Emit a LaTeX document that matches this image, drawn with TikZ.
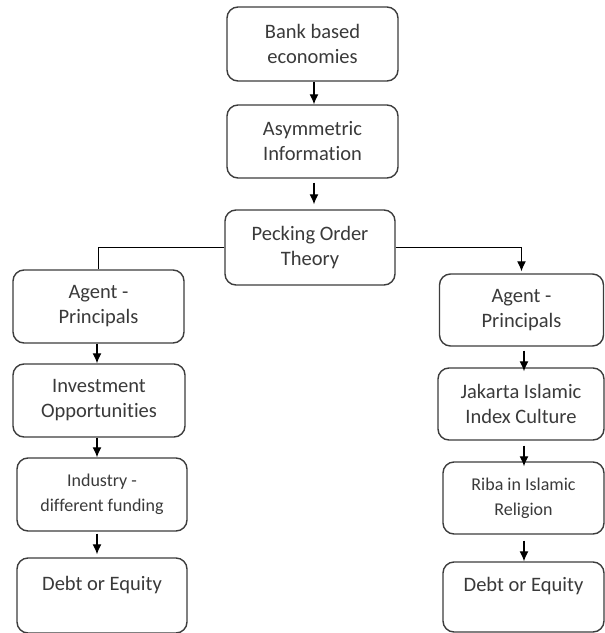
\documentclass[tikz,border=0pt]{standalone}
\usepackage{fontspec}
\setmainfont[Ligatures=NoCommon]{Carlito}
\usepackage{tikz}
\usetikzlibrary{arrows.meta,positioning}

\definecolor{boxline}{HTML}{3C3C3C}
\definecolor{boxtext}{HTML}{3A3A3A}

\tikzset{
  stagebox/.style={draw=boxline, line width=1.4pt, rounded corners=11pt, fill=white,
    text=boxtext, align=center, inner sep=0pt,
    font=\fontsize{20.5}{25}\selectfont},
  smallbox/.style={stagebox, font=\fontsize{18}{25}\selectfont},
  flow/.style={draw=black, line width=1.2pt, -{Latex[length=10pt,width=9pt]}},
  link/.style={draw=black, line width=1.2pt}
}

\begin{document}
\begin{tikzpicture}[x=1pt,y=-1pt]
  \useasboundingbox (0,0) rectangle (605,633);

  % Central chain
  \node[stagebox, minimum width=171pt, minimum height=74pt] (bank) at (312.5,44) {Bank based\\economies};
  \node[stagebox, minimum width=171pt, minimum height=73pt] (asym) at (312.5,141.5) {Asymmetric\\Information};
  \node[stagebox, minimum width=170pt, minimum height=75pt] (peck) at (310,247.5) {Pecking Order\\Theory};

  % Left branch
  \node[stagebox, minimum width=171pt, minimum height=73pt] (agentL) at (98.5,306.5) {Agent -\\Principals};
  \node[stagebox, minimum width=172pt, minimum height=73pt] (invest) at (99,400.5) {Investment\\Opportunities};
  \node[smallbox, minimum width=170pt, minimum height=73pt] (industry) at (102,494.5) {Industry -\\different funding};
  \node[stagebox, minimum width=170pt, minimum height=75pt] (debtL) at (102,595.5) {Debt or Equity\\~};

  % Right branch
  \node[stagebox, minimum width=164pt, minimum height=72pt] (agentR) at (521.5,310) {Agent -\\Principals};
  \node[stagebox, minimum width=166pt, minimum height=72pt] (jakarta) at (521,404) {Jakarta Islamic\\Index Culture};
  \node[smallbox, minimum width=161pt, minimum height=72pt] (riba) at (523.5,498) {Riba in Islamic\\Religion};
  \node[stagebox, minimum width=161pt, minimum height=70pt] (debtR) at (523.5,597) {Debt or Equity\\~};

  % Connectors
  \coordinate (tipA) at (314,0);
  \draw[flow] (bank.south -| tipA) -- (asym.north -| tipA);
  \draw[flow] ([yshift=-4pt]asym.south -| tipA) -- ([yshift=5pt]peck.north -| tipA);
  \draw[link] (peck.west) -| (agentL.north);
  \draw[flow] (peck.east) -| ([yshift=2pt]agentR.north);

  \coordinate (tipL) at (97,0);
  \draw[flow] (agentL.south -| tipL) -- (invest.north -| tipL);
  \draw[flow] (invest.south -| tipL) -- (industry.north -| tipL);
  \draw[flow] ([yshift=-2pt]industry.south -| tipL) -- ([yshift=3pt]debtL.north -| tipL);

  \coordinate (tipR) at (524,0);
  \draw[flow] ([yshift=-4pt]agentR.south -| tipR) -- ([yshift=-4pt]jakarta.north -| tipR);
  \draw[flow] ([yshift=-5pt]jakarta.south -| tipR) -- ([yshift=-5pt]riba.north -| tipR);
  \draw[flow] ([yshift=-6pt]riba.south -| tipR) -- (debtR.north -| tipR);
\end{tikzpicture}
\end{document}
